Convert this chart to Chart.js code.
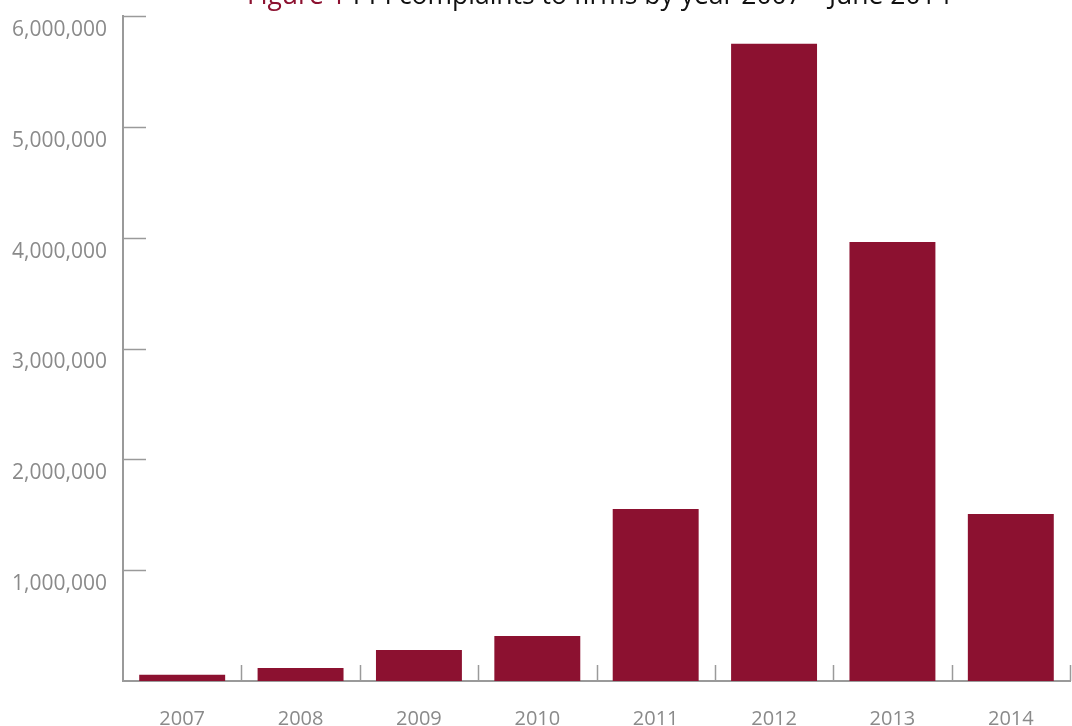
<!DOCTYPE html>
<html>
<head>
<meta charset="utf-8">
<script src="https://cdn.jsdelivr.net/npm/chart.js@4/dist/chart.umd.min.js"></script>
<style>
  html, body { margin: 0; padding: 0; background: #ffffff; }
  #wrap { width: 1072px; height: 726px; position: relative; }
</style>
</head>
<body>
<div id="wrap"><canvas id="c"></canvas></div>
<script>
const categories = ['2007', '2008', '2009', '2010', '2011', '2012', '2013', '2014'];
const complaints = [57000, 117000, 280000, 406000, 1552000, 5749000, 3962000, 1507000];
const yMin = 0;
const yMax = 6000000;
const yStep = 1000000;
const titleLead = 'Figure 1 ';
const titleRest = 'PPI complaints to firms by year 2007 \u2013 June 2014';

const BAR = '#8c1130';
const AXIS = '#9a9a9a';
const LABEL = '#8a8a8a';
const FONT = "'Open Sans', 'Liberation Sans', sans-serif";

const inwardTicks = {
  id: 'inwardTicks',
  afterDatasetsDraw(chart) {
    const { ctx, chartArea, scales: { x, y } } = chart;
    ctx.save();
    ctx.strokeStyle = AXIS;
    ctx.lineWidth = 1.5;
    y.ticks.forEach(t => {
      if (t.value === 0) return;
      const py = Math.round(y.getPixelForValue(t.value)) + 0.5;
      ctx.beginPath();
      ctx.moveTo(chartArea.left, py);
      ctx.lineTo(chartArea.left + 23, py);
      ctx.stroke();
    });
    const w = x.getPixelForValue(1) - x.getPixelForValue(0);
    for (let i = 0; i < categories.length; i++) {
      const bx = Math.round(x.getPixelForValue(i) + w / 2) + 0.5;
      ctx.beginPath();
      ctx.moveTo(bx, chartArea.bottom);
      ctx.lineTo(bx, chartArea.bottom - 16);
      ctx.stroke();
    }
    ctx.restore();
  }
};

const splitTitle = {
  id: 'splitTitle',
  afterDraw(chart) {
    const { ctx } = chart;
    ctx.save();
    ctx.font = "26.5px " + FONT;
    ctx.textBaseline = 'alphabetic';
    const w1 = ctx.measureText(titleLead).width;
    const w2 = ctx.measureText(titleRest).width;
    const cx = 599;
    const x0 = cx - (w1 + w2) / 2;
    const by = 4;
    ctx.fillStyle = BAR;
    ctx.fillText(titleLead, x0, by);
    ctx.fillStyle = '#111111';
    ctx.fillText(titleRest, x0 + w1, by);
    ctx.restore();
  }
};

new Chart(document.getElementById('c'), {
  type: 'bar',
  data: {
    labels: categories,
    datasets: [{
      data: complaints,
      backgroundColor: BAR,
      borderWidth: 0,
      barPercentage: 0.726,
      categoryPercentage: 1.0
    }]
  },
  options: {
    responsive: true,
    maintainAspectRatio: false,
    animation: false,
    layout: { padding: { top: 16, right: 2, bottom: 0, left: 0 } },
    plugins: {
      legend: { display: false },
      title: { display: false },
      tooltip: { enabled: false }
    },
    scales: {
      x: {
        offset: true,
        grid: { display: false, drawTicks: false },
        border: { display: true, color: AXIS, width: 2 },
        ticks: {
          color: LABEL,
          font: { family: FONT, size: 20 },
          padding: 26,
          maxRotation: 0
        },
        afterFit(scale) { scale.height = 45; scale.paddingLeft = 0; scale.paddingRight = 0; }
      },
      y: {
        min: yMin,
        max: yMax,
        grid: { display: false, drawTicks: false },
        border: { display: true, color: AXIS, width: 2 },
        ticks: {
          stepSize: yStep,
          color: LABEL,
          font: { family: FONT, size: 21 },
          padding: 16,
          labelOffset: 14,
          callback: v => v === 0 ? '' : Number(v).toLocaleString('en-US')
        },
        afterFit(scale) { scale.width = 123; scale.paddingTop = 0; scale.paddingBottom = 0; }
      }
    }
  },
  plugins: [inwardTicks, splitTitle]
});
</script>
</body>
</html>
